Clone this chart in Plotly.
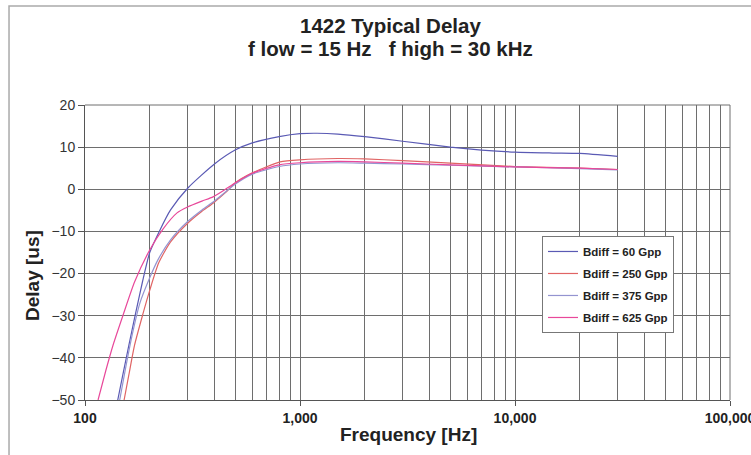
import plotly.graph_objects as go

# Delay vs. frequency for four differential bias levels
freq_60 = [142, 150, 160, 171, 185, 200, 223, 250, 301, 400, 499, 600, 800, 1000,
           1200, 1500, 2000, 3000, 5000, 7000, 10000, 15000, 20000, 30000]
delay_60 = [-50, -44, -37, -30, -22, -15, -9.7, -4.9, 0.3, 6.0, 9.3, 11.0, 12.5, 13.2,
            13.3, 13.1, 12.5, 11.4, 10.0, 9.3, 8.8, 8.6, 8.5, 7.8]

freq_250 = [152, 160, 170, 185, 200, 220, 250, 301, 350, 394, 450, 499, 600, 808,
            1000, 1500, 2000, 3000, 5000, 10000, 20000, 30000]
delay_250 = [-50, -44, -37, -30, -24, -17.5, -12.5, -8.0, -5.2, -3.3, -0.8, 1.5, 3.9, 6.5,
             7.0, 7.3, 7.2, 6.8, 6.2, 5.4, 5.0, 4.7]

freq_375 = [145, 155, 165, 180, 200, 218, 250, 301, 350, 400, 499, 600, 800, 1000,
            1500, 2000, 3000, 5000, 10000, 20000, 30000]
delay_375 = [-50, -42, -35, -27, -21, -16.8, -12, -7.6, -4.9, -2.8, 1.2, 3.6, 5.4, 6.0,
             6.3, 6.2, 6.0, 5.7, 5.3, 4.9, 4.6]

freq_625 = [115, 125, 135, 150, 170, 200, 230, 268, 300, 350, 394, 450, 499, 600, 800,
            1000, 1500, 2000, 3000, 5000, 10000, 20000, 30000]
delay_625 = [-50, -43, -37, -30, -22, -14.4, -9.5, -5.6, -4.2, -2.8, -1.8, 0, 1.5, 3.8, 5.8,
             6.3, 6.6, 6.5, 6.2, 5.8, 5.3, 5.0, 4.7]

series = [
    ("Bdiff = 60 Gpp", freq_60, delay_60, "#5a5ab4"),
    ("Bdiff = 250 Gpp", freq_250, delay_250, "#e06464"),
    ("Bdiff = 375 Gpp", freq_375, delay_375, "#9494d0"),
    ("Bdiff = 625 Gpp", freq_625, delay_625, "#e8489a"),
]

x_major = [100, 1000, 10000, 100000]
x_major_text = ["100", "1,000", "10,000", "100,000"]
x_minor = [m * d for d in (100, 1000, 10000) for m in range(2, 10)]
y_ticks = [20, 10, 0, -10, -20, -30, -40, -50]

FONT = "Liberation Sans, Arial, sans-serif"
GRID = "#6e6e6e"

fig = go.Figure()
for i, (name, fx, fy, col) in enumerate(series):
    fig.add_trace(go.Scatter(
        x=fx, y=fy, mode="lines", name=name, legendgroup=str(i),
        line=dict(color=col, width=1.2, shape="spline", smoothing=0.6),
    ))

fig.update_layout(
    width=751, height=455,
    margin=dict(l=85, r=21, t=105, b=55, autoexpand=False),
    paper_bgcolor="white", plot_bgcolor="white",
    font=dict(family=FONT, color="#222"),
    showlegend=True,
    legend=dict(
        x=0.7085, y=0.556, xanchor="left", yanchor="top",
        bgcolor="white", bordercolor="#777", borderwidth=1,
        font=dict(family=FONT, size=11.5, color="#222", weight="bold"),
        itemwidth=30, tracegroupgap=3,
    ),
    xaxis=dict(
        type="log", range=[2, 5], automargin=False,
        tickvals=x_major, ticktext=x_major_text,
        ticks="outside", ticklen=5, tickcolor="#555",
        tickfont=dict(family=FONT, size=14, color="#222", weight="bold"),
        ticklabeloverflow="allow",
        showgrid=True, gridcolor=GRID, gridwidth=1,
        showline=True, linecolor="#555", linewidth=1,
        minor=dict(tickvals=x_minor, showgrid=True, gridcolor=GRID, gridwidth=1, ticks=""),
        zeroline=False,
    ),
    yaxis=dict(
        range=[-50, 20], tickvals=y_ticks, automargin=False,
        ticks="outside", ticklen=6, tickcolor="#555",
        tickfont=dict(family=FONT, size=14, color="#333"),
        showgrid=True, gridcolor=GRID, gridwidth=1,
        showline=True, linecolor="#555", linewidth=1,
        zeroline=False,
    ),
    shapes=[
        dict(type="rect", xref="paper", yref="paper",
             x0=-0.1178, x1=1.2, y0=-0.3, y1=1.3356,
             line=dict(color="#aaaaaa", width=1.5), fillcolor="rgba(0,0,0,0)", layer="below"),
        dict(type="line", xref="paper", yref="paper", x0=0, x1=1, y0=1, y1=1,
             line=dict(color=GRID, width=1)),
        dict(type="line", xref="paper", yref="paper", x0=1, x1=1, y0=0, y1=1,
             line=dict(color=GRID, width=1)),
    ],
    annotations=[
        dict(text="1422 Typical Delay", xref="paper", yref="paper", x=0.473, y=1.2695,
             xanchor="center", yanchor="middle", showarrow=False,
             font=dict(family=FONT, size=20.5, color="#222", weight="bold")),
        dict(text="f low = 15 Hz\u00a0\u00a0\u00a0f high = 30 kHz", xref="paper", yref="paper",
             x=0.473, y=1.193, xanchor="center", yanchor="middle", showarrow=False,
             font=dict(family=FONT, size=20.5, color="#222", weight="bold")),
        dict(text="Frequency [Hz]", xref="paper", yref="paper", x=0.501, y=-0.1186,
             xanchor="center", yanchor="middle", showarrow=False,
             font=dict(family=FONT, size=19, color="#222", weight="bold")),
        dict(text="Delay [us]", xref="paper", yref="paper", x=-0.0822, y=0.4237,
             xanchor="center", yanchor="middle", showarrow=False, textangle=-90,
             font=dict(family=FONT, size=19, color="#222", weight="bold")),
    ],
)

fig.write_html("out.html")
